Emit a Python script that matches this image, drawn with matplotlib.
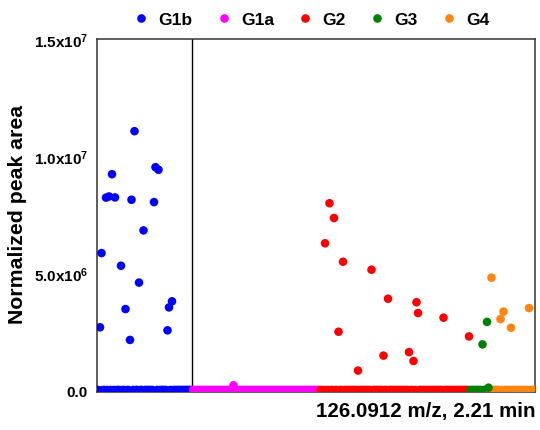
import numpy as np
import matplotlib
matplotlib.use("Agg")
import matplotlib.pyplot as plt
from matplotlib.lines import Line2D

plt.rcParams['font.family'] = ['Liberation Sans', 'DejaVu Sans']
plt.rcParams['font.weight'] = 'bold'
plt.rcParams['mathtext.fontset'] = 'custom'
plt.rcParams['mathtext.rm'] = 'Liberation Sans:bold'
plt.rcParams['mathtext.bf'] = 'Liberation Sans:bold'
plt.rcParams['mathtext.it'] = 'Liberation Sans:bold'

# ---- data (values in units of 1e6) ----
groups = ["G1b", "G1a", "G2", "G3", "G4"]
colors = ["#0000FF", "#FF00FF", "#FF0000", "#008000", "#FF8410"]
group_sizes = [64, 85, 100, 13, 31]

g1b_idx = [25, 39, 41, 10, 6, 8, 12, 23, 38, 31, 3, 16, 28, 50, 48, 19, 2, 47, 22]
g1b_val = [11.06, 9.52, 9.41, 9.22, 8.22, 8.27, 8.23, 8.13, 8.03, 6.82, 5.85, 5.31,
           4.59, 3.79, 3.53, 3.46, 2.68, 2.55, 2.14]
g1a_idx = [27]
g1a_val = [0.2]
g2_idx = [6, 9, 3, 15, 34, 45, 64, 65, 82, 12, 99, 42, 59, 62, 25]
g2_val = [7.98, 7.35, 6.27, 5.48, 5.14, 3.90, 3.75, 3.29, 3.09, 2.49, 2.29, 1.47,
          1.62, 1.24, 0.83]
g3_idx = [8, 11, 12]
g3_val = [1.95, 2.91, 0.1]
g4_idx = [1, 9, 7, 14, 26]
g4_val = [4.80, 3.35, 3.03, 2.66, 3.50]

nonzero = [(g1b_idx, g1b_val), (g1a_idx, g1a_val), (g2_idx, g2_val),
           (g3_idx, g3_val), (g4_idx, g4_val)]

yticks = [0, 5e6, 1e7, 1.5e7]
ytick_labels = ["0.0", r"$\mathbf{5.0x10^{6}}$", r"$\mathbf{1.0x10^{7}}$", r"$\mathbf{1.5x10^{7}}$"]
xlabel = "126.0912 m/z, 2.21 min"
ylabel = "Normalized peak area"

fig = plt.figure(figsize=(5.4, 4.31), dpi=100)
ax = fig.add_axes([97/540, 1-393/431, (535-97)/540, (393-39.5)/431])

start = 0
handles = []
for name, col, n, (idx, val) in zip(groups, colors, group_sizes, nonzero):
    y = np.zeros(n)
    y[idx] = np.array(val) * 1e6
    x = np.arange(start, start + n)
    zmask = y == 0
    ax.scatter(x[zmask], y[zmask], s=38, color=col, edgecolors='none', zorder=3)
    ax.scatter(x[~zmask], y[~zmask], s=38, color=col, edgecolors='none', zorder=4)
    handles.append(Line2D([], [], marker='o', linestyle='none', color=col,
                          markersize=6.2, markeredgewidth=0, label=name))
    start += n

total = sum(group_sizes)
ax.set_xlim(0, total - 1)
ax.set_ylim(-0.085e6, 1.502e7)
ax.axvline(group_sizes[0] - 0.5, color='black', lw=1.0, zorder=2)

ax.set_xticks([])
ax.set_yticks(yticks)
ax.set_yticklabels(ytick_labels)
ax.tick_params(axis='y', length=0, pad=6.5, labelsize=11)
for lab in ax.get_yticklabels():
    lab.set_fontweight('bold')
for s in ax.spines.values():
    s.set_color('#333333')
    s.set_linewidth(1.1)

fig.text(18/540, 1-214/431, ylabel, rotation=90, ha='center', va='center',
         fontsize=15.3, fontweight='bold')
fig.text(536/540, 1-412/431, xlabel, ha='right', va='center',
         fontsize=14.8, fontweight='bold')

fig.legend(handles=handles, loc='center', bbox_to_anchor=(311/540, 1-20/431),
           ncol=5, frameon=False, fontsize=12.5, handletextpad=0.5,
           columnspacing=1.3, handlelength=1.0, borderpad=0)

fig.savefig("out.png", dpi=100)
